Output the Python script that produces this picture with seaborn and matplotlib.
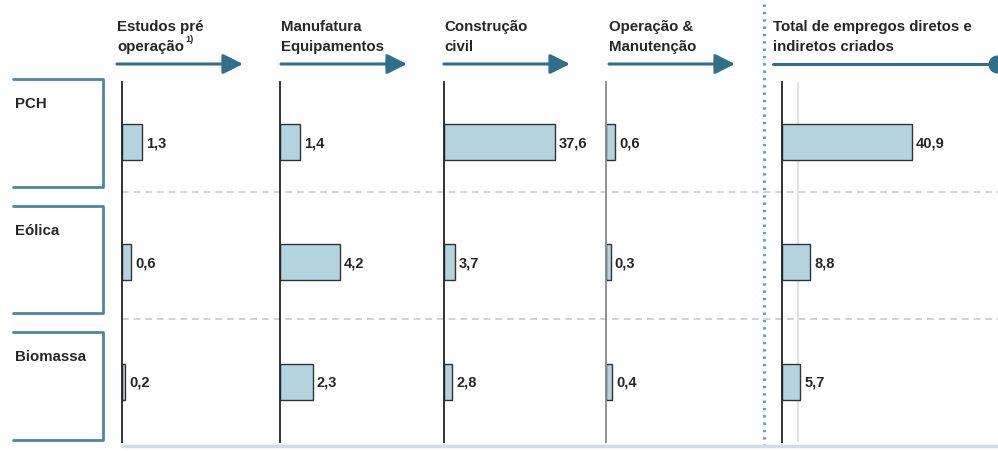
import matplotlib
matplotlib.use("Agg")
import matplotlib.pyplot as plt
import seaborn as sns
import numpy as np
import pandas as pd

# Data
techs = ["PCH", "Eólica", "Biomassa"]
stages = ["Estudos pré\noperação", "Manufatura\nEquipamentos", "Construção\ncivil",
          "Operação &\nManutenção", "Total de empregos diretos e\nindiretos criados"]
estudos = [1.3, 0.6, 0.2]
manufatura = [1.4, 4.2, 2.3]
construcao = [37.6, 3.7, 2.8]
operacao = [0.6, 0.3, 0.4]
total = [40.9, 8.8, 5.7]
series = [estudos, manufatura, construcao, operacao, total]

# layout (pixels)
W, H = 998, 452
panel_left = [122, 280, 444, 606, 782]
panel_width = [150, 150, 150, 150, 210]
px_per_unit = [15.5, 14.2, 2.95, 15.0, 3.18]
header_x = [117, 281, 444, 609, 773]
axis_top, axis_bot = 83, 443

bar_col = "#b3d3de"
edge_col = "#333333"
teal = "#2f6f8c"
txt_col = "#262626"

sns.set_theme(style="white")
plt.rcParams["font.family"] = ["Liberation Sans", "DejaVu Sans"]

fig = plt.figure(figsize=(W / 100, H / 100), dpi=100)

# background layer for decorations
bg = fig.add_axes([0, 0, 1, 1])
bg.set_xlim(0, W)
bg.set_ylim(H, 0)
bg.axis("off")

# headers and arrows
second_lines = []
for i, (hx, lab) in enumerate(zip(header_x, stages)):
    l1, l2 = lab.split("\n")
    bg.text(hx, 31, l1, fontsize=10.8, fontweight="bold", color=txt_col, va="baseline")
    second_lines.append(bg.text(hx, 51, l2, fontsize=10.8, fontweight="bold",
                                color=txt_col, va="baseline"))
    if i < 4:
        bg.annotate("", xy=(hx + 126, 65), xytext=(hx, 65),
                    arrowprops=dict(arrowstyle="-|>", color=teal, lw=2.2, mutation_scale=30,
                                    shrinkA=0, shrinkB=0))

# footnote marker after "operação"
renderer = fig.canvas.get_renderer()
bb = second_lines[0].get_window_extent(renderer)
x_end = bb.x1  # pixels from left
bg.text(x_end + 1, 42, "1)", fontsize=6.5, fontweight="bold", color=txt_col, va="baseline")

bg.plot([773, W - 2], [65, 65], color=teal, lw=2.2)
bg.plot([W - 1], [65], "o", color=teal, markersize=12, clip_on=False)

# dotted separator before total
bg.plot([764, 764], [5, H], color="#5aa5c0", lw=2.2, ls=(0, (0.8, 1.6)))

# row label boxes
box_tops = [80, 207, 333]
box_bots = [188, 314, 441]
for t, b, name in zip(box_tops, box_bots, techs):
    bg.plot([13, 103, 103, 13], [t, t, b, b], color="#4a87a3", lw=2)
    bg.text(15, t + 28, name, fontsize=10.8, fontweight="bold", color=txt_col, va="baseline")

# dashed row separators and bottom line
for y in [193, 320]:
    bg.plot([122, W], [y, y], color="#c9c9c9", lw=1.2, ls=(0, (4, 3)))
bg.plot([122, W], [447, 447], color="#cfdde5", lw=2.5)

# panels
for i, vals in enumerate(series):
    left = panel_left[i] / W
    bottom = (H - axis_bot) / H
    ax = fig.add_axes([left, bottom, panel_width[i] / W, (axis_bot - axis_top) / H])
    ax.patch.set_alpha(0)
    df = pd.DataFrame({"tech": techs, "val": vals})
    if i == 4:
        ax.axvline(5, color="#dddddd", lw=1.2, zorder=0)
    sns.barplot(data=df, x="val", y="tech", orient="h", ax=ax, color=bar_col,
                edgecolor=edge_col, linewidth=1, width=0.3, saturation=1)
    ax.set_xlim(0, panel_width[i] / px_per_unit[i])
    ax.set_ylim(2.5, -0.5)
    ax.set_xlabel("")
    ax.set_ylabel("")
    ax.set_xticks([])
    ax.set_yticks([])
    for s in ["top", "right", "bottom"]:
        ax.spines[s].set_visible(False)
    ax.spines["left"].set_color("#888888" if i == 3 else "#222222")
    ax.spines["left"].set_linewidth(1.3)
    ax.bar_label(ax.containers[0], labels=[f"{v:.1f}".replace(".", ",") for v in vals],
                 padding=3, fontsize=10.5, fontweight="bold", color=txt_col)

fig.savefig("out.png", dpi=100)
